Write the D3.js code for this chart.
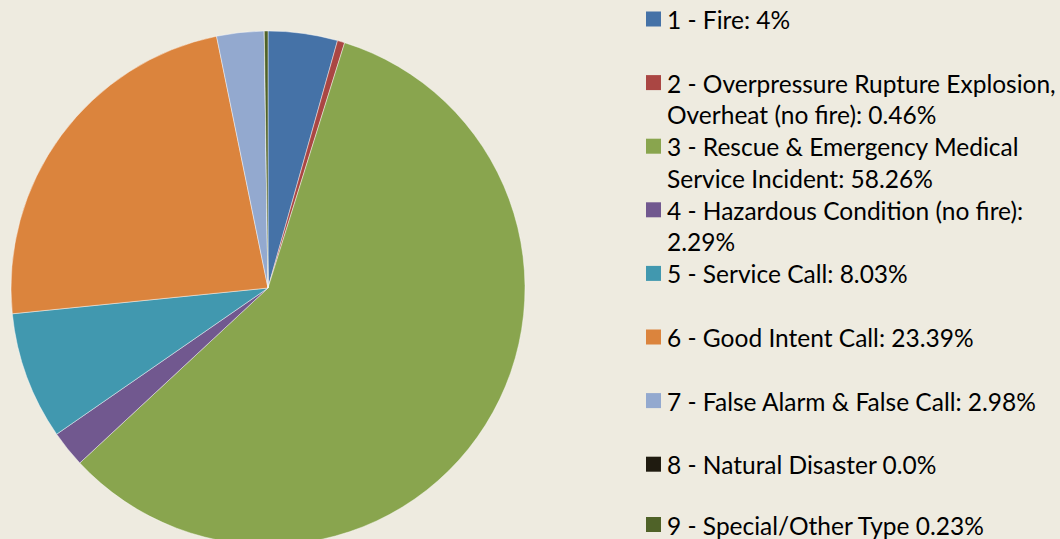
<!DOCTYPE html>
<html>
<head>
<meta charset="utf-8">
<script src="https://cdn.jsdelivr.net/npm/d3@7"></script>
<style>
  html, body { margin: 0; padding: 0; background: #EEEBE0; }
  svg { display: block; }
</style>
</head>
<body>
<svg id="chart" width="1060" height="539"></svg>
<script>
const categories = [
  "1 - Fire: 4%",
  "2 - Overpressure Rupture Explosion,\nOverheat (no fire): 0.46%",
  "3 - Rescue & Emergency Medical\nService Incident: 58.26%",
  "4 - Hazardous Condition (no fire):\n2.29%",
  "5 - Service Call: 8.03%",
  "6 - Good Intent Call: 23.39%",
  "7 - False Alarm & False Call: 2.98%",
  "8 - Natural Disaster 0.0%",
  "9 - Special/Other Type 0.23%"
];
const values = [4.36, 0.46, 58.26, 2.29, 8.03, 23.39, 2.98, 0.0, 0.23];
const colors = ["#4572A7", "#AA4643", "#89A54E", "#71588F", "#4198AF", "#DB843D", "#93A9CF", "#1F1B10", "#4F6228"];

const svg = d3.select("#chart");
const W = 1060, H = 539;
svg.append("rect").attr("width", W).attr("height", H).attr("fill", "#EEEBE0");

const cx = 268, cy = 288, r = 257;
const data = values.map((v, i) => ({ label: categories[i], value: v, color: colors[i] }));

const pie = d3.pie().value(d => d.value).sort(null);
const arc = d3.arc().innerRadius(0).outerRadius(r);

const g = svg.append("g").attr("transform", `translate(${cx},${cy})`);
g.selectAll("path")
  .data(pie(data))
  .join("path")
  .attr("d", arc)
  .attr("fill", d => d.data.color)
  .attr("stroke", "#ffffff")
  .attr("stroke-opacity", 0.55)
  .attr("stroke-width", 0.8);

// Legend
const legX = 646, legY0 = 19, step = 63.6, lineH = 31.5, sq = 15;
const fontFamily = "Lato, 'Open Sans', sans-serif";
const fontSize = 24.5;
const leg = svg.append("g");
data.forEach((d, i) => {
  const y = Math.min(legY0 + i * step, H - 14.5);
  leg.append("rect")
    .attr("x", legX).attr("y", y - sq / 2)
    .attr("width", sq).attr("height", sq)
    .attr("fill", d.color);
  const t = leg.append("text")
    .attr("x", legX + 21)
    .attr("y", y)
    .attr("dominant-baseline", "central")
    .attr("font-family", fontFamily)
    .attr("font-size", fontSize)
    .attr("fill", "#000");
  d.label.split("\n").forEach((line, k) => {
    t.append("tspan")
      .attr("x", legX + 21)
      .attr("y", y + k * lineH)
      .text(line);
  });
});
</script>
</body>
</html>
